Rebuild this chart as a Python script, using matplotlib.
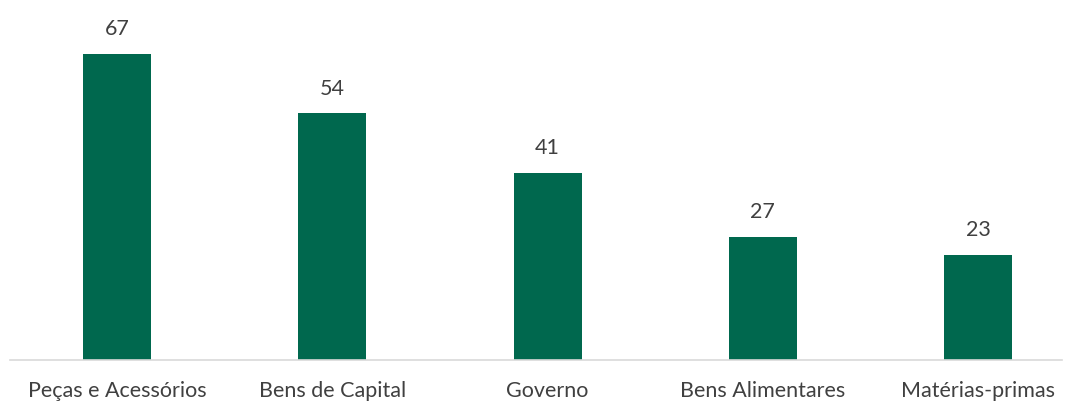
import matplotlib.pyplot as plt

categorias = ["Peças e Acessórios", "Bens de Capital", "Governo", "Bens Alimentares", "Matérias-primas"]
valores = [67, 54, 41, 27, 23]

plt.rcParams['font.family'] = ['Lato', 'DejaVu Sans']

fig = plt.figure(figsize=(10.70, 4.03), dpi=100)
ax = fig.add_axes([10 / 1070, 43 / 403, 1052 / 1070, 360 / 403])

x = range(len(categorias))
bars = ax.bar(x, valores, width=0.316, color="#00684E")
for b, v in zip(bars, valores):
    ax.text(b.get_x() + b.get_width() / 2, v + 5.4, str(v), ha="center", va="center",
            fontsize=15.5, color="#404040")

ax.set_xlim(-0.497, 4.39)
ax.set_ylim(0, 78.8)
ax.set_xticks(list(x))
ax.set_xticklabels(categorias, fontsize=15.5, color="#404040")
ax.tick_params(axis="x", length=0, pad=15)
ax.set_yticks([])
for s in ["top", "right", "left"]:
    ax.spines[s].set_visible(False)
ax.spines["bottom"].set_color("#D9D9D9")
ax.spines["bottom"].set_linewidth(1.2)

fig.savefig("out.png", dpi=100)
